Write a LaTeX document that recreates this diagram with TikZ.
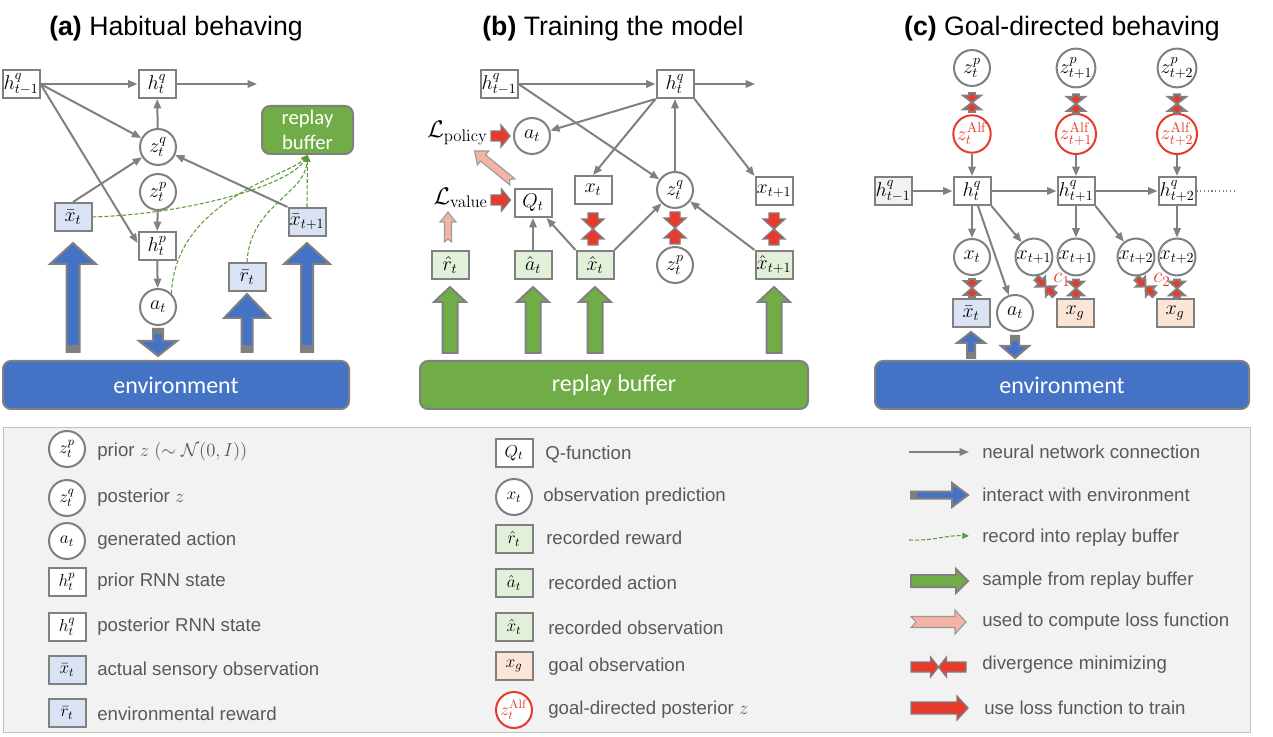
\RequirePackage{fix-cm}
\documentclass[tikz,border=0pt]{standalone}
\usepackage[no-math]{fontspec}
\setmainfont{Liberation Sans}
\newfontfamily\calib{Carlito}
\usetikzlibrary{arrows.meta,calc}
\definecolor{bgray}{HTML}{808080}
\definecolor{myblue}{HTML}{4472C4}
\definecolor{mygreen}{HTML}{70AD47}
\definecolor{dgreen}{HTML}{5B9B3A}
\definecolor{lblue}{HTML}{DAE3F3}
\definecolor{lgreen}{HTML}{E2F0D9}
\definecolor{lorange}{HTML}{FBE5D6}
\definecolor{lgray}{HTML}{F2F2F2}
\definecolor{myred}{HTML}{E83A2B}
\definecolor{mypink}{HTML}{F4B3A4}
\definecolor{legtext}{HTML}{595959}
\definecolor{legborder}{HTML}{BFBFBF}
\definecolor{bandgray}{HTML}{7F7F7F}

% block arrow: #1 style, #2 tail coord, #3 tip coord, #4 shaft half width, #5 head half width, #6 head length (px)
\newcommand{\blockarr}[6]{%
  \path[#1] let \p1=(#2), \p2=(#3), \n1={atan2(\y2-\y1,\x2-\x1)}, \n2={veclen(\x2-\x1,\y2-\y1)} in
    [shift={(\p1)}, rotate=\n1]
    (0pt,{-#4*0.75pt}) -- ({\n2-#6*0.75pt},{-#4*0.75pt}) -- ({\n2-#6*0.75pt},{-#5*0.75pt})
    -- ({\n2+0pt},0pt) -- ({\n2-#6*0.75pt},{#5*0.75pt}) -- ({\n2-#6*0.75pt},{#4*0.75pt})
    -- (0pt,{#4*0.75pt}) -- cycle;}
% notched block arrow: extra #7 notch depth
\newcommand{\notcharr}[7]{%
  \path[#1] let \p1=(#2), \p2=(#3), \n1={atan2(\y2-\y1,\x2-\x1)}, \n2={veclen(\x2-\x1,\y2-\y1)} in
    [shift={(\p1)}, rotate=\n1]
    (0pt,{-#4*0.75pt}) -- ({\n2-#6*0.75pt},{-#4*0.75pt}) -- ({\n2-#6*0.75pt},{-#5*0.75pt})
    -- ({\n2+0pt},0pt) -- ({\n2-#6*0.75pt},{#5*0.75pt}) -- ({\n2-#6*0.75pt},{#4*0.75pt})
    -- (0pt,{#4*0.75pt}) -- ({#7*0.75pt},0pt) -- cycle;}
% grey band at the tail of a blue arrow
\newcommand{\tailband}[4]{%
  \path[fill=bandgray] let \p1=(#1), \p2=(#2), \n1={atan2(\y2-\y1,\x2-\x1)} in
    [shift={(\p1)}, rotate=\n1]
    (0pt,{-#3*0.75pt}) rectangle ({#4*0.75pt},{#3*0.75pt});}
% divergence pair
\newcommand{\divpair}[6][rarr]{%
  \coordinate (dpm) at ($(#2)!0.5!(#3)$);
  \blockarr{#1}{#2}{dpm}{#4}{#5}{#6}
  \blockarr{#1}{#3}{dpm}{#4}{#5}{#6}}

\tikzset{
  bx/.style={rectangle, draw=bgray, line width=1.5pt, fill=white, minimum width=27.75pt, minimum height=21pt, inner sep=0pt, font=\fontsize{15}{17}\selectfont},
  cr/.style={circle, draw=bgray, line width=1.5pt, fill=white, minimum size=27pt, inner sep=0pt, font=\fontsize{15}{17}\selectfont},
  crr/.style={cr, draw=myred, text=myred},
  lgm/.style={font=\fontsize{13}{15}\selectfont},
  nn/.style={draw=bgray, line width=1.5pt, -{Triangle[length=7pt,width=5.5pt]}},
  rec/.style={draw=dgreen, line width=0.8pt, dash pattern=on 3pt off 1.5pt, -{Triangle[length=5pt,width=4.5pt]}},
  env/.style={rectangle, rounded corners=6pt, draw=bgray, line width=1.5pt, fill=myblue, text=white, inner sep=0pt, font=\calib\fontsize{18}{22}\selectfont},
  buf/.style={env, fill=mygreen},
  barr/.style={fill=myblue, draw=bgray, line width=1.5pt},
  garr/.style={fill=mygreen, draw=bgray, line width=1.5pt},
  rarr/.style={fill=myred, draw=bgray, line width=1pt},
  rarrc/.style={fill=myred, draw=bgray, line width=1.4pt},
  parr/.style={fill=mypink, draw=bgray!80, line width=0.8pt},
  ttl/.style={font=\fontsize{20}{24}\selectfont, inner sep=0pt},
  legt/.style={anchor=west, text=legtext, font=\fontsize{14}{16}\selectfont, inner sep=0pt},
  loss/.style={anchor=east, inner sep=0pt, font=\fontsize{18}{21}\selectfont},
  clab/.style={text=myred, font=\fontsize{16}{18}\selectfont, inner sep=0pt},
}

\begin{document}
\begin{tikzpicture}[x=0.75pt,y=-0.75pt]
\useasboundingbox (0,0) rectangle (1273,737);

% ---------------- titles
\node[ttl] (ta) at (176,29) {\textbf{(a)} Habitual behaving};
\node[ttl] (tb) at (613,29) {\textbf{(b)} Training the model};
\node[ttl] (tc) at (1062,29) {\textbf{(c)} Goal-directed behaving};

% ---------------- legend background
\node[draw=legborder, fill=lgray, line width=0.75pt, minimum width=935.25pt, minimum height=228.75pt, inner sep=0pt] (legend) at (626.5,579.5) {};

% ================= panel (a)
\node[bx] (a_hq0) at (21,84) {$h^q_{t-1}$};
\node[bx] (a_hq1) at (157,84) {$h^q_t$};
\coordinate (a_hend) at (257,84);
\node[cr] (a_zq) at (158,147) {$z^q_t$};
\node[cr] (a_zp) at (158,192) {$z^p_t$};
\node[bx] (a_hp) at (157,246) {$h^p_t$};
\node[cr] (a_at) at (158,307) {$a_t$};
\node[bx, fill=lblue] (a_xb) at (73,217) {$\bar{x}_t$};
\node[bx, fill=lblue] (a_xb1) at (307,222) {$\bar{x}_{t+1}$};
\node[bx, fill=lblue] (a_rb) at (247,277) {$\bar{r}_t$};
\node[buf, minimum width=68.25pt, minimum height=36pt, align=center, font=\calib\fontsize{15.5}{19}\selectfont] (a_buf) at (307.5,130) {replay\\buffer};
\node[env, minimum width=259.5pt, minimum height=36pt] (a_env) at (176,385) {environment};

\draw[nn] (a_hq0) -- (a_hq1);
\draw[nn] (a_hq1) -- (a_hend);
\draw[nn] (a_hq0.east) -- (a_zq);
\draw[nn] (a_hq0.east) -- ($(a_hp.west)+(0,-3)$);
\draw[nn] (a_zq) -- (a_hq1);
\draw[nn] (a_xb.north) -- (a_zq);
\draw[nn] (a_xb1.north west) -- (a_zq);
\draw[nn] (a_zp) -- (a_hp);
\draw[nn] (a_hp) -- (a_at);

\draw[rec] (a_xb.east) .. controls (190,214) and (290,185) .. (a_buf.south);
\draw[rec] (a_at.north east) .. controls (175,200) and (290,175) .. (a_buf.south);
\draw[rec] (a_rb.north) .. controls (250,205) and (305,195) .. (a_buf.south);
\draw[rec] (a_xb1.north) -- (a_buf.south);

\coordinate (a_x1t) at ($(a_env.north -| a_xb)+(0,-8)$);
\coordinate (a_x1h) at ($(a_xb.south)+(0,11)$);
\coordinate (a_x2t) at ($(a_env.north -| a_xb1)+(0,-8)$);
\coordinate (a_x2h) at ($(a_xb1.south)+(0,6)$);
\coordinate (a_rt) at ($(a_env.north -| a_rb)+(0,-8)$);
\coordinate (a_rh) at ($(a_rb.south)+(0,2)$);
\coordinate (a_att) at ($(a_at.south)+(0,3)$);
\coordinate (a_ath) at ($(a_env.north -| a_at)+(0,-4)$);
\blockarr{barr}{a_x1t}{a_x1h}{6.5}{23}{21}
\tailband{a_x1t}{a_x1h}{6.5}{7}
\blockarr{barr}{a_x2t}{a_x2h}{6}{23}{21}
\tailband{a_x2t}{a_x2h}{6}{7}
\blockarr{barr}{a_rt}{a_rh}{5.5}{23}{24}
\tailband{a_rt}{a_rh}{5.5}{7}
\blockarr{barr}{a_att}{a_ath}{5}{19}{15}
\tailband{a_att}{a_ath}{5}{5}

% ================= panel (b)
\node[bx] (b_hq0) at (499,84) {$h^q_{t-1}$};
\node[bx] (b_hq1) at (675,84) {$h^q_t$};
\coordinate (b_hend) at (755,84);
\node[cr] (b_at) at (532,136) {$a_t$};
\node[loss] (b_lp) at (488,133) {$\mathcal{L}_{\mathrm{policy}}$};
\node[loss] (b_lv) at (488,198) {$\mathcal{L}_{\mathrm{value}}$};
\node[bx] (b_Q) at (533,203) {$Q_t$};
\node[bx, fill=lgreen] (b_rh) at (450,265) {$\hat{r}_t$};
\node[bx, fill=lgreen] (b_ah) at (533,265) {$\hat{a}_t$};
\node[bx, fill=lgreen] (b_xh) at (595,265) {$\hat{x}_t$};
\node[bx] (b_xt) at (593,190) {$x_t$};
\node[cr] (b_zq) at (675,190) {$z^q_t$};
\node[cr] (b_zp) at (675,265) {$z^p_t$};
\node[bx] (b_xt1) at (774,191) {$x_{t+1}$};
\node[bx, fill=lgreen] (b_xh1) at (774,265) {$\hat{x}_{t+1}$};
\node[buf, minimum width=291pt, minimum height=36pt] (b_buf) at (614,385) {replay buffer};

\draw[nn] (b_hq0) -- (b_hq1);
\draw[nn] (b_hq1) -- (b_hend);
\draw[nn] (b_hq0.east) -- (b_zq);
\draw[nn] (b_hq1.south west) -- (b_at);
\draw[nn] (b_hq1.south west) -- (b_xt.north);
\draw[nn] (b_hq1.south east) -- (b_xt1.north west);
\draw[nn] (b_zq) -- (b_hq1);
\draw[nn] (b_ah) -- (b_Q);
\draw[nn] (b_xh.north west) -- (b_Q);
\draw[nn] (b_xh.north east) -- (b_zq);
\draw[nn] (b_xh1.north west) -- (b_zq);

\coordinate (b_lpa) at ($(b_lp.east)+(3,3)$);
\coordinate (b_lpb) at ($(b_at.west)+(-3,0)$);
\coordinate (b_lva) at ($(b_lv.east)+(3,2)$);
\coordinate (b_lvb) at ($(b_Q.west)+(-3,-3)$);
\blockarr{rarr}{b_lpa}{b_lpb}{5}{11}{9}
\blockarr{rarr}{b_lva}{b_lvb}{5}{11}{9}
\coordinate (b_pk1) at ($(b_Q.north west)+(-1,-6)$);
\coordinate (b_pk2) at ($(b_Q.north west)+(-39,-37)$);
\notcharr{parr}{b_pk1}{b_pk2}{4}{9}{11}{4}
\coordinate (b_pk3) at ($(b_rh.north)+(-2,-8)$);
\coordinate (b_pk4) at ($(b_rh.north)+(-2,-38)$);
\notcharr{parr}{b_pk3}{b_pk4}{3.5}{8}{10}{3}

\coordinate (b_d1a) at ($(b_xt.south)+(0,8)$);
\coordinate (b_d1b) at ($(b_xt.south)+(0,40)$);
\divpair{b_d1a}{b_d1b}{5}{11}{10}
\coordinate (b_d2a) at ($(b_zq.south)+(0,3)$);
\coordinate (b_d2b) at ($(b_zq.south)+(0,35)$);
\divpair{b_d2a}{b_d2b}{5}{11}{10}
\coordinate (b_d3a) at ($(b_xt1.south)+(0,7)$);
\coordinate (b_d3b) at ($(b_xt1.south)+(0,39)$);
\divpair{b_d3a}{b_d3b}{5}{11}{10}

\foreach \n in {b_rh,b_ah,b_xh,b_xh1}{
  \coordinate (gt) at ($(b_buf.north -| \n)+(0,-7)$);
  \coordinate (gh) at ($(\n.south)+(0,7)$);
  \blockarr{garr}{gt}{gh}{7.5}{16}{15}
}

% ================= panel (c)
\node[cr] (c_zp0) at (972,68) {$z^p_t$};
\node[cr] (c_zp1) at (1076,68) {$z^p_{t+1}$};
\node[cr] (c_zp2) at (1177,68) {$z^p_{t+2}$};
\node[crr] (c_za0) at (972,134) {$z^{\mathrm{Alf}}_t$};
\node[crr] (c_za1) at (1076,134) {$z^{\mathrm{Alf}}_{t+1}$};
\node[crr] (c_za2) at (1177,134) {$z^{\mathrm{Alf}}_{t+2}$};
\node[bx, fill=lgray] (c_h0) at (893,191) {$h^q_{t-1}$};
\node[bx] (c_h1) at (972,191) {$h^q_t$};
\node[bx] (c_h2) at (1076,191) {$h^q_{t+1}$};
\node[bx] (c_h3) at (1177,191) {$h^q_{t+2}$};
\coordinate (c_dotend) at (1237,191);
\node[cr] (c_x1) at (972,257) {$x_t$};
\node[cr] (c_x2a) at (1034,257) {$x_{t+1}$};
\node[cr] (c_x2b) at (1076,257) {$x_{t+1}$};
\node[cr] (c_x3a) at (1136,257) {$x_{t+2}$};
\node[cr] (c_x3b) at (1177,257) {$x_{t+2}$};
\node[cr] (c_at) at (1015,313) {$a_t$};
\node[bx, fill=lblue] (c_xb) at (971,313) {$\bar{x}_t$};
\node[bx, fill=lorange] (c_xg1) at (1075,313) {$x_g$};
\node[bx, fill=lorange] (c_xg2) at (1175,313) {$x_g$};
\node[env, minimum width=280.5pt, minimum height=36pt] (c_env) at (1062,385) {environment};

\draw[nn] (c_h0) -- (c_h1);
\draw[nn] (c_h1) -- (c_h2);
\draw[nn] (c_h2) -- (c_h3);
\draw[draw=bgray, line width=0.8pt, dotted] (c_h3) -- (c_dotend);
\draw[nn] (c_za0) -- (c_h1);
\draw[nn] (c_za1) -- (c_h2);
\draw[nn] (c_za2) -- (c_h3);
\draw[nn] (c_h1) -- (c_x1);
\draw[nn] (c_h1.south east) -- (c_x2a);
\draw[nn] ($(c_h1.south)+(6,0)$) -- (c_at);
\draw[nn] (c_h2) -- (c_x2b);
\draw[nn] (c_h2.south east) -- (c_x3a);
\draw[nn] (c_h3) -- (c_x3b);

\foreach \n in {c_zp0,c_zp1,c_zp2}{
  \coordinate (da) at ($(\n.south)+(0,6)$);
  \coordinate (db) at ($(\n.south)+(0,25)$);
  \divpair[rarrc]{da}{db}{3}{9}{7}
}
\foreach \n in {c_x1,c_x2b,c_x3b}{
  \coordinate (da) at ($(\n.south)+(0,3)$);
  \coordinate (db) at ($(\n.south)+(0,21)$);
  \divpair[rarrc]{da}{db}{3}{8}{7}
}
\foreach \n in {c_xg1,c_xg2}{
  \coordinate (da) at ($(\n.north west)+(-19,-20)$);
  \coordinate (db) at ($(\n.north west)+(-1,-3)$);
  \divpair[rarrc]{da}{db}{3}{7}{7}
}
\node[clab] (c_c1) at (1062,280) {$c_1$};
\node[clab] (c_c2) at (1162,280) {$c_2$};

\coordinate (c_ut) at ($(c_env.north -| c_xb)+(0,-2)$);
\coordinate (c_uh) at ($(c_xb.south)+(0,4)$);
\coordinate (c_dt) at ($(c_at.south)+(0,4)$);
\coordinate (c_dh) at ($(c_env.north -| c_at)+(0,-2)$);
\blockarr{barr}{c_ut}{c_uh}{4}{14}{11}
\tailband{c_ut}{c_uh}{4}{6}
\blockarr{barr}{c_dt}{c_dh}{4}{14}{12}
\tailband{c_dt}{c_dh}{4}{5}

% ================= legend column 1
\node[cr, lgm] (lg_zp) at (67,449) {$z^p_t$};
\node[legt] (lt_zp) at (97,452) {prior $z$ $(\sim\mathcal{N}(0,I))$};
\node[cr, lgm] (lg_zq) at (67,498) {$z^q_t$};
\node[legt] (lt_zq) at (97,498) {posterior $z$};
\node[cr, lgm] (lg_at) at (67,541) {$a_t$};
\node[legt] (lt_at) at (97,541) {generated action};
\node[bx, lgm] (lg_hp) at (67,582) {$h^p_t$};
\node[legt] (lt_hp) at (97,582) {prior RNN state};
\node[bx, lgm] (lg_hq) at (67,627) {$h^q_t$};
\node[legt] (lt_hq) at (97,627) {posterior RNN state};
\node[bx, lgm, fill=lblue] (lg_xb) at (67,670) {$\bar{x}_t$};
\node[legt] (lt_xb) at (97,671) {actual sensory observation};
\node[bx, lgm, fill=lblue] (lg_rb) at (67,713) {$\bar{r}_t$};
\node[legt] (lt_rb) at (97,714) {environmental reward};

% ================= legend column 2
\node[bx, lgm] (lg_Q) at (514,453) {$Q_t$};
\node[legt] (lt_Q) at (545,454) {Q-function};
\node[cr, lgm] (lg_x) at (514,497) {$x_t$};
\node[legt] (lt_x) at (543,497) {observation prediction};
\node[bx, lgm, fill=lgreen] (lg_rh) at (514,539) {$\hat{r}_t$};
\node[legt] (lt_rh) at (546,538) {recorded reward};
\node[bx, lgm, fill=lgreen] (lg_ah) at (514,583) {$\hat{a}_t$};
\node[legt] (lt_ah) at (548,583) {recorded action};
\node[bx, lgm, fill=lgreen] (lg_xh) at (514,627) {$\hat{x}_t$};
\node[legt] (lt_xh) at (548,628) {recorded observation};
\node[bx, lgm, fill=lorange] (lg_xg) at (514,666) {$x_g$};
\node[legt] (lt_xg) at (548,667) {goal observation};
\node[crr, lgm] (lg_za) at (514,710) {$z^{\mathrm{Alf}}_t$};
\node[legt] (lt_za) at (548,710) {goal-directed posterior $z$};

% ================= legend column 3
\coordinate (l1a) at (909,452); \coordinate (l1b) at (969,452);
\draw[nn] (l1a) -- (l1b);
\node[legt] (lt_1) at (982,452) {neural network connection};
\coordinate (l2a) at (911,495); \coordinate (l2b) at (968,495);
\blockarr{barr}{l2a}{l2b}{3.5}{12}{16}
\tailband{l2a}{l2b}{3.5}{6}
\node[legt] (lt_2) at (982,495) {interact with environment};
\coordinate (l3a) at (909,540); \coordinate (l3b) at (969,536);
\draw[rec] (l3a) .. controls (935,541) and (945,535) .. (l3b);
\node[legt] (lt_3) at (982,538) {record into replay buffer};
\coordinate (l4a) at (911,581); \coordinate (l4b) at (968,581);
\blockarr{garr}{l4a}{l4b}{6}{12}{12}
\node[legt] (lt_4) at (982,581) {sample from replay buffer};
\coordinate (l5a) at (911,622); \coordinate (l5b) at (966,622);
\notcharr{parr}{l5a}{l5b}{5.5}{12}{11}{5}
\node[legt] (lt_5) at (982,622) {used to compute loss function};
\coordinate (l6a) at (911,667); \coordinate (l6b) at (966,667);
\divpair{l6a}{l6b}{5}{10}{8}
\node[legt] (lt_6) at (982,665) {divergence minimizing};
\coordinate (l7a) at (911,708); \coordinate (l7b) at (968,708);
\blockarr{rarr}{l7a}{l7b}{6}{12}{11}
\node[legt] (lt_7) at (984,708) {use loss function to train};
\end{tikzpicture}
\end{document}
